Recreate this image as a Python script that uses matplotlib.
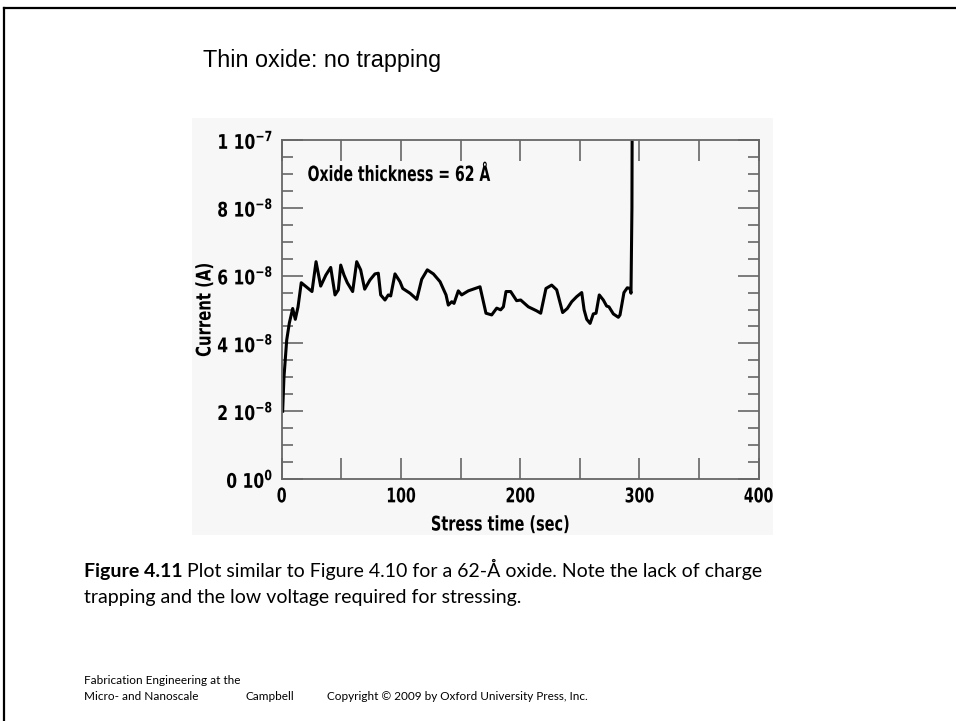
import numpy as np
import matplotlib
matplotlib.use("Agg")
import matplotlib.pyplot as plt
from matplotlib import font_manager as fm
from matplotlib.patches import Rectangle
from matplotlib.patheffects import AbstractPathEffect
from matplotlib.transforms import Affine2D
from matplotlib.ticker import FixedLocator, MultipleLocator, NullFormatter

# stress time (sec) and gate current (units of 1e-8 A)
t = [0.8, 1.9, 4.2, 6.4, 9.2, 11.4, 13.7, 16.4, 25.4, 28.8, 32.7, 37.1, 41.1,
     44.7, 47.5, 49.5, 52.2, 55.0, 59.5, 62.9, 66.2, 69.6, 74.0, 78.2, 81.0,
     83.0, 86.6, 89.4, 91.4, 95.0, 99.2, 101.5, 107.6, 113.3, 117.4, 122.1,
     127.2, 132.8, 137.8, 139.7, 142.6, 144.5, 148.1, 150.9, 156.5, 166.3,
     171.3, 176.1, 180.3, 183.6, 185.9, 188.1, 192.0, 197.0, 200.4, 206.8,
     213.8, 217.2, 221.6, 226.4, 230.6, 235.6, 239.5, 243.2, 247.4, 251.6,
     253.6, 255.8, 258.6, 261.3, 263.6, 266.3, 269.7, 272.5, 274.4, 278.1,
     282.3, 283.7, 287.0, 289.8, 292.1, 292.9, 293.7, 294.0]
cur = [2.0, 3.0, 4.1, 4.6, 5.03, 4.71, 5.08, 5.79, 5.53, 6.41, 5.69, 6.02, 6.24,
       5.43, 5.58, 6.31, 6.02, 5.79, 5.53, 6.41, 6.17, 5.60, 5.87, 6.05, 6.07,
       5.43, 5.28, 5.43, 5.40, 6.05, 5.82, 5.62, 5.48, 5.30, 5.89, 6.17,
       6.05, 5.82, 5.43, 5.13, 5.23, 5.18, 5.55, 5.43, 5.55, 5.67,
       4.89, 4.84, 5.04, 4.99, 5.08, 5.53, 5.53, 5.26, 5.28, 5.08,
       4.96, 4.89, 5.62, 5.72, 5.58, 4.91, 5.03, 5.23, 5.38, 5.50,
       4.99, 4.71, 4.59, 4.87, 4.89, 5.43, 5.28, 5.10, 5.08, 4.87,
       4.77, 4.84, 5.50, 5.64, 5.62, 5.48, 8.0, 12.0]

t = np.array(t)
I = np.array(cur) * 1e-8

ytick_vals = [0, 2e-8, 4e-8, 6e-8, 8e-8, 1e-7]
ytick_mant = ["0", "2", "4", "6", "8", "1"]
ytick_exp = ["0", "-8", "-8", "-8", "-8", "-7"]
xtick_vals = [0, 100, 200, 300, 400]


class Squeeze(AbstractPathEffect):
    """Narrow the glyphs along the text direction, about a chosen edge."""

    def __init__(self, s, anchor="center", vertical=False):
        super().__init__()
        self.s, self.anchor, self.vertical = s, anchor, vertical

    def draw_path(self, renderer, gc, tpath, affine, rgbFace=None):
        ext = tpath.get_extents(affine)
        if self.vertical:
            c = (ext.y0 + ext.y1) / 2
            tr = affine + Affine2D().translate(0, -c).scale(1, self.s).translate(0, c)
        else:
            c = {"left": ext.x0, "right": ext.x1}.get(self.anchor, (ext.x0 + ext.x1) / 2)
            tr = affine + Affine2D().translate(-c, 0).scale(self.s, 1).translate(c, 0)
        renderer.draw_path(gc, tpath, tr, rgbFace)


# pick a narrow bold face for the plot lettering
fonts = fm.fontManager.ttflist
names = {f.name for f in fonts}
if "Liberation Sans Narrow" in names:
    nfam, nstretch, pat = "Liberation Sans Narrow", "normal", "Liberation Sans Narrow:bold"
elif any(f.name == "DejaVu Sans" and f.stretch not in ("normal", 500) for f in fonts):
    nfam, nstretch, pat = "DejaVu Sans", "condensed", "DejaVu Sans:weight=bold:stretch=condensed"
else:
    nfam, nstretch, pat = "Liberation Sans", "normal", "Liberation Sans:bold"
plt.rcParams["mathtext.fontset"] = "custom"
plt.rcParams["mathtext.bf"] = pat
plt.rcParams["mathtext.rm"] = pat
plt.rcParams["mathtext.it"] = pat
nfont = dict(family=nfam, fontweight="bold", fontstretch=nstretch)

W, H = 956, 721
fig = plt.figure(figsize=(W / 100, H / 100), dpi=100)

# slide frame (left and top edges)
fig.add_artist(plt.Line2D([4 / W, 4 / W], [0, 1 - 8 / H], color="black", lw=1.6))
fig.add_artist(plt.Line2D([4 / W, 1], [1 - 8 / H, 1 - 8 / H], color="black", lw=1.6))

# light backdrop behind the scanned plot
fig.add_artist(Rectangle((192 / W, 1 - 535 / H), (773 - 192) / W, (535 - 118) / H,
                         transform=fig.transFigure, facecolor="#f7f7f7",
                         edgecolor="none", zorder=0))

fig.text(203 / W, 1 - 61 / H, "Thin oxide: no trapping", fontsize=16.8,
         family="Liberation Sans", va="center", ha="left")

ax = fig.add_axes([281.7 / W, 1 - 479 / H, (758.7 - 281.7) / W, (479 - 140) / H])
ax.set_facecolor("none")
ax.plot(t, I, color="black", lw=2.2, solid_joinstyle="round")
ax.set_xlim(0, 400)
ax.set_ylim(0, 1e-7)

ax.yaxis.set_major_locator(FixedLocator(ytick_vals))
ax.set_yticklabels([r"$\mathbf{%s\ 10^{%s}}$" % (m, e) for m, e in zip(ytick_mant, ytick_exp)],
                   fontsize=14.5)
ax.yaxis.set_minor_locator(MultipleLocator(0.5e-8))
ax.yaxis.set_minor_formatter(NullFormatter())
ax.xaxis.set_major_locator(FixedLocator(xtick_vals))
ax.set_xticklabels([str(v) for v in xtick_vals], fontsize=14.5, **nfont)
ax.xaxis.set_minor_locator(MultipleLocator(50))
for lab in ax.get_yticklabels():
    lab.set_path_effects([Squeeze(0.86, "right")])
for lab in ax.get_xticklabels():
    lab.set_path_effects([Squeeze(0.78)])

ax.tick_params(which="both", direction="in", top=True, right=True, color="#666666",
               width=1.2)
ax.tick_params(axis="y", which="major", length=15, pad=6)
ax.tick_params(axis="y", which="minor", length=8)
ax.tick_params(axis="x", which="both", length=15, pad=6)
for s in ax.spines.values():
    s.set_color("#666666")
    s.set_linewidth(1.3)

ax.set_xlabel("Stress time (sec)", fontsize=14.5, **nfont)
ax.xaxis.set_label_coords((500 - 281.7) / (758.7 - 281.7), -(525 - 479) / (479 - 140))
ax.xaxis.label.set_va("center")
ax.xaxis.label.set_path_effects([Squeeze(0.8)])
ax.set_ylabel("Current (A)", fontsize=14.5, **nfont)
ax.yaxis.set_label_coords((205 - 281.7) / (758.7 - 281.7), (479 - 310) / (479 - 140))
ax.yaxis.label.set_va("center")
ax.yaxis.label.set_path_effects([Squeeze(0.82, vertical=True)])

ax.text(21.5, 8.97e-8, "Oxide thickness = 62 Å", fontsize=15, va="center", ha="left",
        path_effects=[Squeeze(0.75, "left")], **nfont)

# caption with bold figure number
fig.canvas.draw()
r = fig.canvas.get_renderer()
cap = fig.text(84 / W, 1 - 577 / H, "Figure 4.11", fontsize=14, family="Lato",
               fontweight="bold", va="baseline", ha="left")
bb = cap.get_window_extent(renderer=r)
fig.text(bb.x1 / W + 4 / W, 1 - 577 / H,
         "Plot similar to Figure 4.10 for a 62-Å oxide. Note the lack of charge",
         fontsize=14, family="Lato", va="baseline", ha="left")
fig.text(84 / W, 1 - 603 / H, "trapping and the low voltage required for stressing.",
         fontsize=14, family="Lato", va="baseline", ha="left")

# footer
fig.text(84 / W, 1 - 681 / H, "Fabrication Engineering at the", fontsize=8.5,
         family="Lato", va="center", ha="left")
fig.text(84 / W, 1 - 697 / H, "Micro- and Nanoscale", fontsize=8.5,
         family="Lato", va="center", ha="left")
fig.text(245 / W, 1 - 697 / H, "Campbell", fontsize=8.5, family="Lato",
         va="center", ha="left")
fig.text(327 / W, 1 - 697 / H, "Copyright © 2009 by Oxford University Press, Inc.",
         fontsize=8.5, family="Lato", va="center", ha="left")

fig.savefig("out.png", dpi=100)
